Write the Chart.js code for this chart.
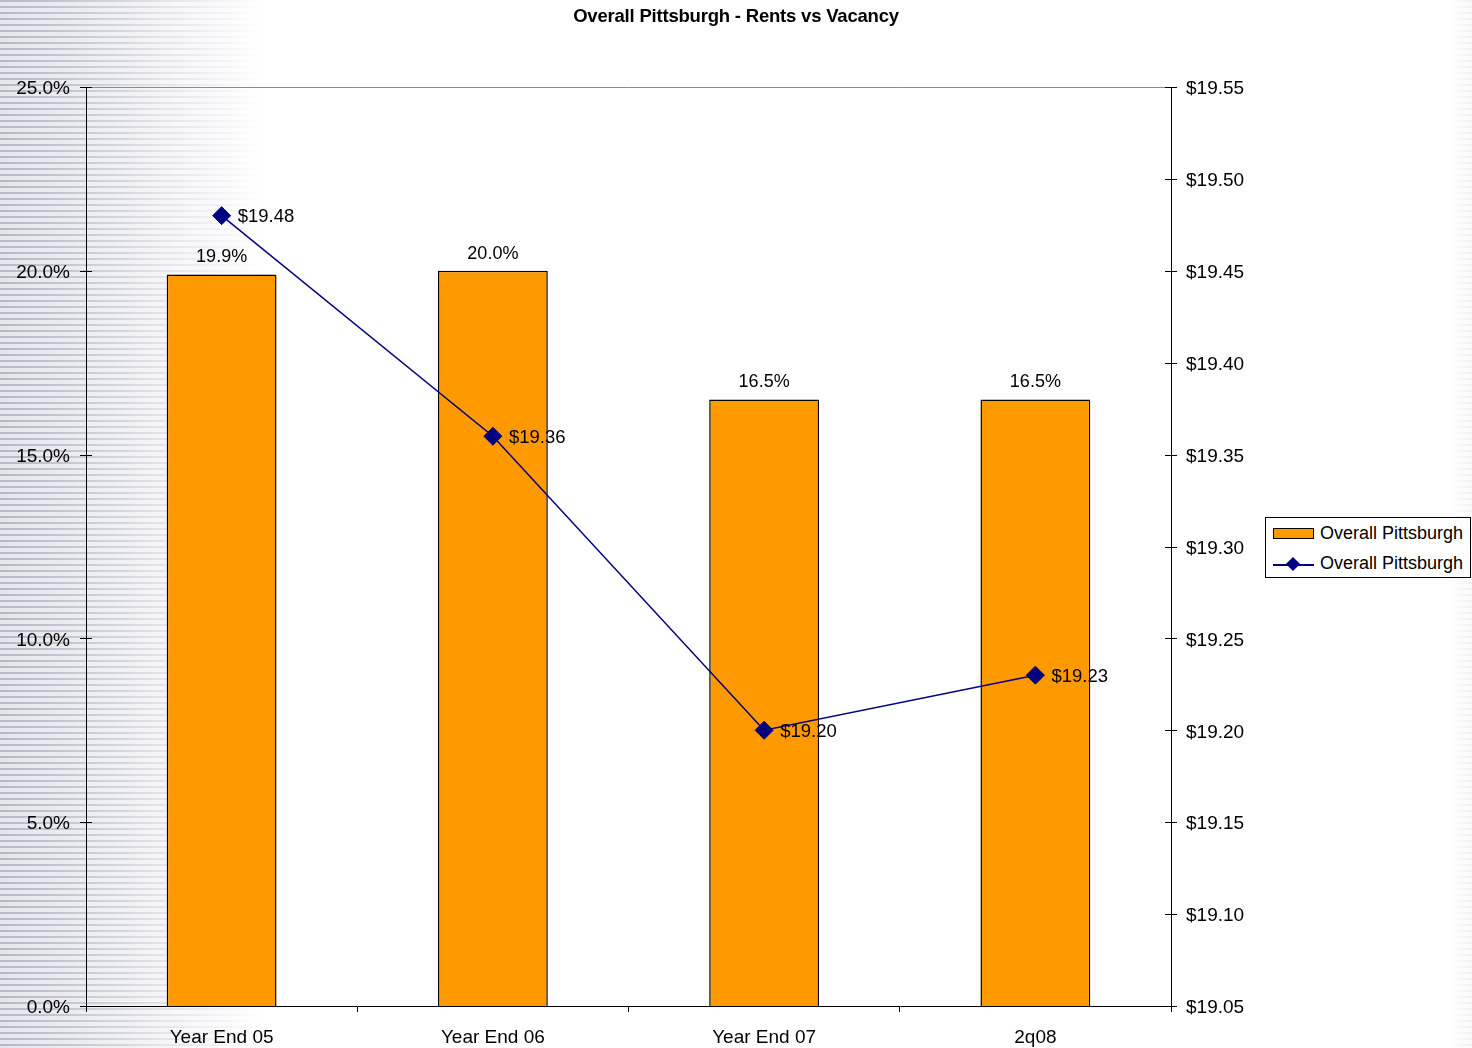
<!DOCTYPE html>
<html>
<head>
<meta charset="utf-8">
<script src="https://cdn.jsdelivr.net/npm/chart.js@4.4.1/dist/chart.umd.min.js"></script>
<style>
    body { margin: 0; background: #fff; }
    #wrap { position: relative; width: 1472px; height: 1048px; overflow: hidden; font-family: 'Liberation Sans', Arial, sans-serif; }
    .stripes {
        position: absolute; top: 0; height: 1048px;
        background: repeating-linear-gradient(to bottom, #b6b9c6 0px, #b6b9c6 2px, #e6e7ed 2px, #e6e7ed 6px);
    }
    #bgLeft { left: 0; width: 270px;
        -webkit-mask-image: linear-gradient(to right, #000 0px, rgba(0,0,0,.8) 70px, rgba(0,0,0,.4) 160px, rgba(0,0,0,0) 265px);
        mask-image: linear-gradient(to right, #000 0px, rgba(0,0,0,.8) 70px, rgba(0,0,0,.4) 160px, rgba(0,0,0,0) 265px); }
    #bgRight { left: 1448px; width: 24px;
        -webkit-mask-image: linear-gradient(to right, rgba(0,0,0,0) 0px, rgba(0,0,0,.2) 24px);
        mask-image: linear-gradient(to right, rgba(0,0,0,0) 0px, rgba(0,0,0,.2) 24px); }
    canvas { position: absolute; left: 0; top: 0; }
    #title { position: absolute; left: 0; width: 1472px; top: 5px; text-align: center; font-weight: bold; font-size: 18.5px; letter-spacing: -0.2px; color: #000; }
    #legend { position: absolute; left: 1265px; top: 517px; width: 204px; height: 59px; border: 1px solid #000; background: #fff; font-size: 18px; color: #000; }
    #legend .row { position: absolute; left: 54px; }
    #legend .swatch { position: absolute; left: 7px; top: 10px; width: 39px; height: 9px; background: #ff9900; border: 1px solid #000; }
    #legend .ln { position: absolute; left: 7px; top: 46px; width: 41px; height: 1.5px; background: #000080; }
    #legend .dia { position: absolute; left: 22px; top: 41px; width: 10px; height: 10px; background: #000080; transform: rotate(45deg); }
</style>
</head>
<body>
<div id="wrap">
    <div class="stripes" id="bgLeft"></div>
    <div class="stripes" id="bgRight"></div>
    <canvas id="combo-chart" width="1472" height="1048"></canvas>
    <div id="title">Overall Pittsburgh - Rents vs Vacancy</div>
    <div id="legend">
        <div class="swatch"></div>
        <div class="row" style="top:5px">Overall Pittsburgh</div>
        <div class="ln"></div>
        <div class="dia"></div>
        <div class="row" style="top:35px">Overall Pittsburgh</div>
    </div>
</div>
<script>
var categories = ["Year End 05", "Year End 06", "Year End 07", "2q08"];
var vacancy = [19.9, 20.0, 16.5, 16.5];
var rents = [19.48, 19.36, 19.20, 19.23];
var vacancyTicks = [0, 5, 10, 15, 20, 25];
var rentTicks = [19.05, 19.10, 19.15, 19.20, 19.25, 19.30, 19.35, 19.40, 19.45, 19.50, 19.55];

var FONT = "'Liberation Sans', Arial, sans-serif";

// value labels above bars and to the right of the line points,
// plus the grey top edge and the cross ticks on both value axes
var decorations = {
    id: 'decorations',
    beforeDatasetsDraw: function (chart) {
        var ctx = chart.ctx, a = chart.chartArea;
        ctx.save();
        ctx.strokeStyle = '#8a8a8a';
        ctx.lineWidth = 1;
        ctx.beginPath();
        ctx.moveTo(a.left, a.top + 0.5);
        ctx.lineTo(a.right, a.top + 0.5);
        ctx.stroke();
        ctx.strokeStyle = '#000';
        ['y', 'y1'].forEach(function (id) {
            var s = chart.scales[id];
            var ax = id === 'y' ? a.left : a.right;
            s.ticks.forEach(function (t) {
                var py = Math.round(s.getPixelForValue(t.value)) + 0.5;
                ctx.beginPath();
                ctx.moveTo(ax - 6, py);
                ctx.lineTo(ax + 6, py);
                ctx.stroke();
            });
        });
        ctx.restore();
    },
    afterDatasetsDraw: function (chart) {
        var ctx = chart.ctx;
        ctx.save();
        ctx.fillStyle = '#000';
        ctx.font = '18px ' + FONT;
        chart.getDatasetMeta(0).data.forEach(function (bar, i) {
            ctx.textAlign = 'center';
            ctx.textBaseline = 'middle';
            ctx.fillText(vacancy[i].toFixed(1) + '%', bar.x, bar.y - 17);
        });
        ctx.font = '18.5px ' + FONT;
        chart.getDatasetMeta(1).data.forEach(function (pt, i) {
            ctx.textAlign = 'left';
            ctx.textBaseline = 'middle';
            ctx.fillText('$' + rents[i].toFixed(2), pt.x + 16, pt.y + 1.5);
        });
        ctx.restore();
    }
};

new Chart(document.getElementById("combo-chart"), {
    type: 'bar',
    data: {
        labels: categories,
        datasets: [
            {
                type: 'bar',
                label: "Overall Pittsburgh",
                data: vacancy,
                backgroundColor: "#FF9900",
                borderColor: "#000000",
                borderWidth: 1.5,
                barPercentage: 0.405,
                categoryPercentage: 1,
                yAxisID: 'y',
                order: 2
            },
            {
                type: 'line',
                label: "Overall Pittsburgh",
                data: rents,
                borderColor: "#000080",
                backgroundColor: "#000080",
                borderWidth: 1.5,
                pointStyle: 'rectRot',
                pointRadius: 9,
                pointBorderWidth: 1,
                tension: 0,
                yAxisID: 'y1',
                order: 1
            }
        ]
    },
    options: {
        responsive: false,
        animation: false,
        layout: {padding: {top: 87, left: 0, right: 0, bottom: 0}},
        plugins: {
            legend: {display: false},
            title: {display: false},
            tooltip: {enabled: false}
        },
        scales: {
            x: {
                grid: {offset: true, drawOnChartArea: false, color: '#000', tickLength: 6},
                border: {color: '#000', width: 1},
                ticks: {color: '#000', font: {family: FONT, size: 19}, padding: 14},
                afterFit: function (s) { s.height = 42; }
            },
            y: {
                position: 'left',
                min: 0,
                max: 25,
                grid: {display: false, drawTicks: false},
                border: {color: '#000', width: 1},
                afterBuildTicks: function (s) { s.ticks = vacancyTicks.map(function (v) { return {value: v}; }); },
                ticks: {
                    color: '#000', font: {family: FONT, size: 19}, padding: 16, labelOffset: 2,
                    callback: function (v) { return v.toFixed(1) + '%'; }
                },
                afterFit: function (s) { s.width = 86; }
            },
            y1: {
                position: 'right',
                min: 19.05,
                max: 19.55,
                grid: {display: false, drawTicks: false},
                border: {color: '#000', width: 1},
                afterBuildTicks: function (s) { s.ticks = rentTicks.map(function (v) { return {value: v}; }); },
                ticks: {
                    color: '#000', font: {family: FONT, size: 19}, padding: 15, labelOffset: 2,
                    callback: function (v) { return '$' + v.toFixed(2); }
                },
                afterFit: function (s) { s.width = 301; }
            }
        }
    },
    plugins: [decorations]
});
</script>
</body>
</html>
